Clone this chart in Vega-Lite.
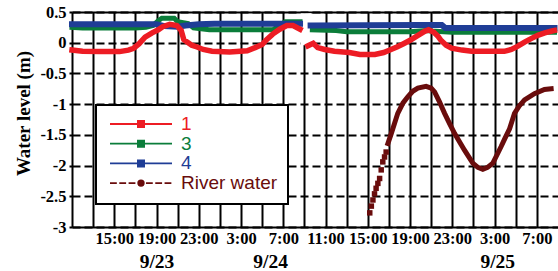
{
  "$schema": "https://vega.github.io/schema/vega-lite/v6.json",
  "width": 486,
  "height": 215,
  "autosize": {"type": "none"},
  "padding": {"left": 72, "top": 12, "right": 0, "bottom": 44},
  "config": {
    "view": {"stroke": null},
    "axisY": {"labelFont": "Times New Roman", "labelFontWeight": "bold", "labelFontSize": 16.5, "labelColor": "black"}
  },
  "data": {"values": [
    {"s":"gap","g":"x","t":"2011-09-24T08:38","t2":"2011-09-24T09:40","v":0.48,"v2":-0.04},
    {"s":"3","g":"a","t":"2011-09-23T11:00","v":0.25},
    {"s":"3","g":"a","t":"2011-09-23T12:00","v":0.24},
    {"s":"3","g":"a","t":"2011-09-23T17:00","v":0.24},
    {"s":"3","g":"a","t":"2011-09-23T18:00","v":0.25},
    {"s":"3","g":"a","t":"2011-09-23T18:40","v":0.28},
    {"s":"3","g":"a","t":"2011-09-23T19:10","v":0.36},
    {"s":"3","g":"a","t":"2011-09-23T19:30","v":0.40},
    {"s":"3","g":"a","t":"2011-09-23T20:40","v":0.40},
    {"s":"3","g":"a","t":"2011-09-23T21:00","v":0.34},
    {"s":"3","g":"a","t":"2011-09-23T22:00","v":0.31},
    {"s":"3","g":"a","t":"2011-09-23T22:30","v":0.24},
    {"s":"3","g":"a","t":"2011-09-24T00:00","v":0.21},
    {"s":"3","g":"a","t":"2011-09-24T06:00","v":0.21},
    {"s":"3","g":"a","t":"2011-09-24T06:30","v":0.26},
    {"s":"3","g":"a","t":"2011-09-24T07:10","v":0.34},
    {"s":"3","g":"a","t":"2011-09-24T08:35","v":0.34},
    {"s":"3","g":"b","t":"2011-09-24T09:45","v":0.21},
    {"s":"3","g":"b","t":"2011-09-24T12:00","v":0.20},
    {"s":"3","g":"b","t":"2011-09-24T13:00","v":0.18},
    {"s":"3","g":"b","t":"2011-09-24T19:00","v":0.18},
    {"s":"3","g":"b","t":"2011-09-24T20:30","v":0.20},
    {"s":"3","g":"b","t":"2011-09-24T21:00","v":0.19},
    {"s":"3","g":"b","t":"2011-09-24T23:00","v":0.17},
    {"s":"3","g":"b","t":"2011-09-25T08:40","v":0.17},
    {"s":"4","g":"a","t":"2011-09-23T11:00","v":0.30},
    {"s":"4","g":"a","t":"2011-09-23T19:00","v":0.30},
    {"s":"4","g":"a","t":"2011-09-23T19:45","v":0.27},
    {"s":"4","g":"a","t":"2011-09-23T21:00","v":0.26},
    {"s":"4","g":"a","t":"2011-09-23T21:45","v":0.28},
    {"s":"4","g":"a","t":"2011-09-23T23:00","v":0.30},
    {"s":"4","g":"a","t":"2011-09-24T00:30","v":0.31},
    {"s":"4","g":"a","t":"2011-09-24T08:35","v":0.31},
    {"s":"4","g":"b","t":"2011-09-24T09:35","v":0.28},
    {"s":"4","g":"b","t":"2011-09-24T20:00","v":0.29},
    {"s":"4","g":"b","t":"2011-09-24T22:00","v":0.29},
    {"s":"4","g":"b","t":"2011-09-24T22:20","v":0.24},
    {"s":"4","g":"b","t":"2011-09-25T08:40","v":0.24},
    {"s":"1","g":"a","t":"2011-09-23T11:00","v":-0.12},
    {"s":"1","g":"a","t":"2011-09-23T12:00","v":-0.14},
    {"s":"1","g":"a","t":"2011-09-23T13:40","v":-0.145},
    {"s":"1","g":"a","t":"2011-09-23T15:30","v":-0.145},
    {"s":"1","g":"a","t":"2011-09-23T16:20","v":-0.12},
    {"s":"1","g":"a","t":"2011-09-23T16:50","v":-0.09},
    {"s":"1","g":"a","t":"2011-09-23T17:20","v":-0.02},
    {"s":"1","g":"a","t":"2011-09-23T17:55","v":0.09},
    {"s":"1","g":"a","t":"2011-09-23T18:35","v":0.16},
    {"s":"1","g":"a","t":"2011-09-23T19:10","v":0.21},
    {"s":"1","g":"a","t":"2011-09-23T19:35","v":0.26},
    {"s":"1","g":"a","t":"2011-09-23T20:15","v":0.30},
    {"s":"1","g":"a","t":"2011-09-23T20:55","v":0.28},
    {"s":"1","g":"a","t":"2011-09-23T21:20","v":0.20},
    {"s":"1","g":"a","t":"2011-09-23T21:35","v":0.05},
    {"s":"1","g":"a","t":"2011-09-23T22:00","v":0.00},
    {"s":"1","g":"a","t":"2011-09-23T22:20","v":-0.04},
    {"s":"1","g":"a","t":"2011-09-23T22:50","v":-0.07},
    {"s":"1","g":"a","t":"2011-09-23T23:25","v":-0.11},
    {"s":"1","g":"a","t":"2011-09-24T00:15","v":-0.14},
    {"s":"1","g":"a","t":"2011-09-24T01:55","v":-0.15},
    {"s":"1","g":"a","t":"2011-09-24T03:35","v":-0.13},
    {"s":"1","g":"a","t":"2011-09-24T04:20","v":-0.08},
    {"s":"1","g":"a","t":"2011-09-24T05:00","v":-0.03},
    {"s":"1","g":"a","t":"2011-09-24T05:25","v":0.05},
    {"s":"1","g":"a","t":"2011-09-24T06:00","v":0.14},
    {"s":"1","g":"a","t":"2011-09-24T06:40","v":0.22},
    {"s":"1","g":"a","t":"2011-09-24T07:20","v":0.28},
    {"s":"1","g":"a","t":"2011-09-24T07:55","v":0.28},
    {"s":"1","g":"a","t":"2011-09-24T08:35","v":0.22},
    {"s":"1","g":"b","t":"2011-09-24T09:20","v":-0.05},
    {"s":"1","g":"b","t":"2011-09-24T09:50","v":-0.01},
    {"s":"1","g":"b","t":"2011-09-24T10:15","v":-0.08},
    {"s":"1","g":"b","t":"2011-09-24T10:55","v":-0.11},
    {"s":"1","g":"b","t":"2011-09-24T11:50","v":-0.14},
    {"s":"1","g":"b","t":"2011-09-24T13:15","v":-0.16},
    {"s":"1","g":"b","t":"2011-09-24T14:15","v":-0.19},
    {"s":"1","g":"b","t":"2011-09-24T15:40","v":-0.19},
    {"s":"1","g":"b","t":"2011-09-24T16:30","v":-0.16},
    {"s":"1","g":"b","t":"2011-09-24T17:05","v":-0.12},
    {"s":"1","g":"b","t":"2011-09-24T17:45","v":-0.07},
    {"s":"1","g":"b","t":"2011-09-24T18:20","v":-0.02},
    {"s":"1","g":"b","t":"2011-09-24T19:00","v":0.04},
    {"s":"1","g":"b","t":"2011-09-24T19:45","v":0.12},
    {"s":"1","g":"b","t":"2011-09-24T20:25","v":0.19},
    {"s":"1","g":"b","t":"2011-09-24T20:45","v":0.21},
    {"s":"1","g":"b","t":"2011-09-24T21:15","v":0.17},
    {"s":"1","g":"b","t":"2011-09-24T21:40","v":0.10},
    {"s":"1","g":"b","t":"2011-09-24T21:55","v":0.04},
    {"s":"1","g":"b","t":"2011-09-24T22:25","v":-0.04},
    {"s":"1","g":"b","t":"2011-09-24T22:55","v":-0.09},
    {"s":"1","g":"b","t":"2011-09-24T23:55","v":-0.12},
    {"s":"1","g":"b","t":"2011-09-25T00:50","v":-0.14},
    {"s":"1","g":"b","t":"2011-09-25T02:30","v":-0.14},
    {"s":"1","g":"b","t":"2011-09-25T03:55","v":-0.14},
    {"s":"1","g":"b","t":"2011-09-25T04:35","v":-0.11},
    {"s":"1","g":"b","t":"2011-09-25T05:10","v":-0.06},
    {"s":"1","g":"b","t":"2011-09-25T05:50","v":0.01},
    {"s":"1","g":"b","t":"2011-09-25T06:30","v":0.07},
    {"s":"1","g":"b","t":"2011-09-25T07:05","v":0.12},
    {"s":"1","g":"b","t":"2011-09-25T07:45","v":0.16},
    {"s":"1","g":"b","t":"2011-09-25T08:25","v":0.19},
    {"s":"1","g":"b","t":"2011-09-25T08:40","v":0.20},
    {"s":"River water","g":"dot","t":"2011-09-24T15:11","v":-2.77},
    {"s":"River water","g":"dot","t":"2011-09-24T15:20","v":-2.66},
    {"s":"River water","g":"dot","t":"2011-09-24T15:29","v":-2.56},
    {"s":"River water","g":"dot","t":"2011-09-24T15:38","v":-2.46},
    {"s":"River water","g":"dot","t":"2011-09-24T15:47","v":-2.37},
    {"s":"River water","g":"dot","t":"2011-09-24T15:57","v":-2.29},
    {"s":"River water","g":"dot","t":"2011-09-24T16:07","v":-2.21},
    {"s":"River water","g":"dot","t":"2011-09-24T16:16","v":-2.07},
    {"s":"River water","g":"dot","t":"2011-09-24T16:25","v":-1.94},
    {"s":"River water","g":"dot","t":"2011-09-24T16:35","v":-1.86},
    {"s":"River water","g":"dot","t":"2011-09-24T16:44","v":-1.78},
    {"s":"River water","g":"line","t":"2011-09-24T16:54","v":-1.64},
    {"s":"River water","g":"line","t":"2011-09-24T17:13","v":-1.48},
    {"s":"River water","g":"line","t":"2011-09-24T17:50","v":-1.15},
    {"s":"River water","g":"line","t":"2011-09-24T18:20","v":-0.98},
    {"s":"River water","g":"line","t":"2011-09-24T18:47","v":-0.88},
    {"s":"River water","g":"line","t":"2011-09-24T19:15","v":-0.79},
    {"s":"River water","g":"line","t":"2011-09-24T19:44","v":-0.74},
    {"s":"River water","g":"line","t":"2011-09-24T20:31","v":-0.71},
    {"s":"River water","g":"line","t":"2011-09-24T21:00","v":-0.74},
    {"s":"River water","g":"line","t":"2011-09-24T21:19","v":-0.80},
    {"s":"River water","g":"line","t":"2011-09-24T21:45","v":-0.95},
    {"s":"River water","g":"line","t":"2011-09-24T22:16","v":-1.15},
    {"s":"River water","g":"line","t":"2011-09-24T22:45","v":-1.32},
    {"s":"River water","g":"line","t":"2011-09-24T23:13","v":-1.48},
    {"s":"River water","g":"line","t":"2011-09-25T00:09","v":-1.75},
    {"s":"River water","g":"line","t":"2011-09-25T00:56","v":-1.96},
    {"s":"River water","g":"line","t":"2011-09-25T01:25","v":-2.03},
    {"s":"River water","g":"line","t":"2011-09-25T01:53","v":-2.06},
    {"s":"River water","g":"line","t":"2011-09-25T02:20","v":-2.03},
    {"s":"River water","g":"line","t":"2011-09-25T02:50","v":-1.96},
    {"s":"River water","g":"line","t":"2011-09-25T03:37","v":-1.69},
    {"s":"River water","g":"line","t":"2011-09-25T04:00","v":-1.55},
    {"s":"River water","g":"line","t":"2011-09-25T04:25","v":-1.40},
    {"s":"River water","g":"line","t":"2011-09-25T04:53","v":-1.15},
    {"s":"River water","g":"line","t":"2011-09-25T05:20","v":-1.03},
    {"s":"River water","g":"line","t":"2011-09-25T05:50","v":-0.93},
    {"s":"River water","g":"line","t":"2011-09-25T06:46","v":-0.83},
    {"s":"River water","g":"line","t":"2011-09-25T07:43","v":-0.76},
    {"s":"River water","g":"line","t":"2011-09-25T08:21","v":-0.75}
  ]},
  "encoding": {
    "y": {
      "field": "v", "type": "quantitative",
      "scale": {"domain": [-3, 0.5], "nice": false, "zero": false},
      "axis": {
        "values": [-3, -2.5, -2, -1.5, -1, -0.5, 0, 0.5],
        "labelExpr": "datum.value + ''",
        "grid": true, "gridDash": [8, 4], "gridColor": "black", "gridWidth": 2, "gridOpacity": 1,
        "domainColor": "black", "domainWidth": 2,
        "tickColor": "black", "tickWidth": 2, "tickSize": 3,
        "labelFont": "Times New Roman", "labelFontWeight": "bold", "labelFontSize": 16.5, "labelColor": "black", "labelPadding": 3,
        "title": "Water level (m)", "titleFont": "Times New Roman", "titleFontSize": 19,
        "titleFontWeight": "bold", "titleColor": "black", "titleX": -39, "titleY": 101
      }
    },
    "color": {
      "field": "s", "type": "nominal",
      "scale": {"domain": ["1", "3", "4", "River water"], "range": ["#ed1c24", "#0b7d3a", "#1f3d96", "#690c0c"]},
      "legend": {
        "title": null, "orient": "none", "legendX": 24, "legendY": 93, "direction": "vertical",
        "fillColor": "white", "strokeColor": "black", "padding": 10,
        "symbolSize": 3844, "clipHeight": 18, "rowPadding": 0.7, "labelOffset": 8, "symbolOffset": 3,
        "symbolStrokeWidth": 1.8,
        "labelFont": "Arial", "labelFontSize": 19,
        "encode": {
          "legend": {"update": {"strokeWidth": {"value": 2}}},
          "symbols": {"update": {
            "shape": {"signal": "datum.value === 'River water' ? 'M-1,0H-0.78M-0.7,0H-0.48M-0.4,0H-0.18M0.16,0H0.38M0.46,0H0.68M0.76,0H0.98M0.09,0A0.09,0.09,0,1,1,-0.09,0A0.09,0.09,0,1,1,0.09,0Z' : 'M-1,0H1M-0.1,-0.1H0.1V0.1H-0.1Z'"},
            "fill": {"scale": "color", "field": "value"},
            "stroke": {"scale": "color", "field": "value"},
            "strokeWidth": {"value": 1.8},
            "opacity": {"value": 1}
          }},
          "labels": {"update": {"fill": {"scale": "color", "field": "value"}}}
        }
      }
    }
  },
  "resolve": {"axis": {"x": "independent"}},
  "layer": [
    {
      "transform": [{"filter": "datum.s == 'gap'"}],
      "mark": {"type": "rect"},
      "encoding": {
        "x": {"field": "t", "type": "temporal",
          "scale": {"domain": [{"year": 2011, "month": 9, "date": 23, "hours": 11}, {"year": 2011, "month": 9, "date": 25, "hours": 9}]},
          "axis": {
            "orient": "bottom",
            "values": [{"year": 2011, "month": 9, "date": 23, "hours": 19}, {"year": 2011, "month": 9, "date": 24, "hours": 5, "minutes": 45}, {"year": 2011, "month": 9, "date": 25, "hours": 3, "minutes": 15}],
            "labelExpr": "timeFormat(datum.value, '%-m/%-d')",
            "ticks": false, "domain": false, "grid": false, "labelPadding": 25,
            "labelFont": "Times New Roman", "labelFontWeight": "bold", "labelFontSize": 19.5, "labelColor": "black",
            "labelFlush": false, "labelOverlap": false, "title": null
          }},
        "x2": {"field": "t2"},
        "y2": {"field": "v2"},
        "color": {"value": "white"}
      }
    },
    {
      "transform": [{"filter": "datum.s == '3'"}],
      "mark": {"type": "line", "strokeWidth": 5, "strokeCap": "square"},
      "encoding": {
        "x": {"field": "t", "type": "temporal",
          "axis": {
            "orient": "bottom",
            "values": [
              {"year": 2011, "month": 9, "date": 23, "hours": 13},
              {"year": 2011, "month": 9, "date": 23, "hours": 15},
              {"year": 2011, "month": 9, "date": 23, "hours": 17},
              {"year": 2011, "month": 9, "date": 23, "hours": 19},
              {"year": 2011, "month": 9, "date": 23, "hours": 21},
              {"year": 2011, "month": 9, "date": 23, "hours": 23},
              {"year": 2011, "month": 9, "date": 24, "hours": 1},
              {"year": 2011, "month": 9, "date": 24, "hours": 3},
              {"year": 2011, "month": 9, "date": 24, "hours": 5},
              {"year": 2011, "month": 9, "date": 24, "hours": 7},
              {"year": 2011, "month": 9, "date": 24, "hours": 9},
              {"year": 2011, "month": 9, "date": 24, "hours": 11},
              {"year": 2011, "month": 9, "date": 24, "hours": 13},
              {"year": 2011, "month": 9, "date": 24, "hours": 15},
              {"year": 2011, "month": 9, "date": 24, "hours": 17},
              {"year": 2011, "month": 9, "date": 24, "hours": 19},
              {"year": 2011, "month": 9, "date": 24, "hours": 21},
              {"year": 2011, "month": 9, "date": 24, "hours": 23},
              {"year": 2011, "month": 9, "date": 25, "hours": 1},
              {"year": 2011, "month": 9, "date": 25, "hours": 3},
              {"year": 2011, "month": 9, "date": 25, "hours": 5},
              {"year": 2011, "month": 9, "date": 25, "hours": 7}
            ],
            "labelExpr": "hours(datum.value) % 4 == 3 ? timeFormat(datum.value, '%-H:%M') : ''",
            "grid": true, "gridColor": "black", "gridWidth": 2, "gridOpacity": 1,
            "domainColor": "black", "domainWidth": 2, "ticks": false,
            "labelFont": "Times New Roman", "labelFontWeight": "bold", "labelFontSize": 16.5, "labelColor": "black", "labelPadding": 3,
            "labelFlush": false, "labelOverlap": false, "title": null
          }},
        "detail": {"field": "g"}
      }
    },
    {
      "transform": [{"filter": "datum.s == '4'"}],
      "mark": {"type": "line", "strokeWidth": 6, "strokeCap": "square"},
      "encoding": {"x": {"field": "t", "type": "temporal", "axis": null}, "detail": {"field": "g"}}
    },
    {
      "transform": [{"filter": "datum.s == '1'"}],
      "mark": {"type": "line", "strokeWidth": 5.5, "strokeCap": "square"},
      "encoding": {"x": {"field": "t", "type": "temporal", "axis": null}, "detail": {"field": "g"}}
    },
    {
      "transform": [{"filter": "datum.s == 'River water' && datum.g == 'line'"}],
      "mark": {"type": "line", "strokeWidth": 5, "strokeCap": "square"},
      "encoding": {"x": {"field": "t", "type": "temporal", "axis": null}}
    },
    {
      "transform": [{"filter": "datum.s == 'River water' && datum.g == 'dot'"}],
      "mark": {"type": "point", "shape": "square", "filled": true, "size": 30, "opacity": 1},
      "encoding": {"x": {"field": "t", "type": "temporal",
        "axis": {"orient": "top", "labels": false, "ticks": false, "grid": false, "domain": true, "domainColor": "black", "domainWidth": 2, "title": null}}}
    }
  ]
}
